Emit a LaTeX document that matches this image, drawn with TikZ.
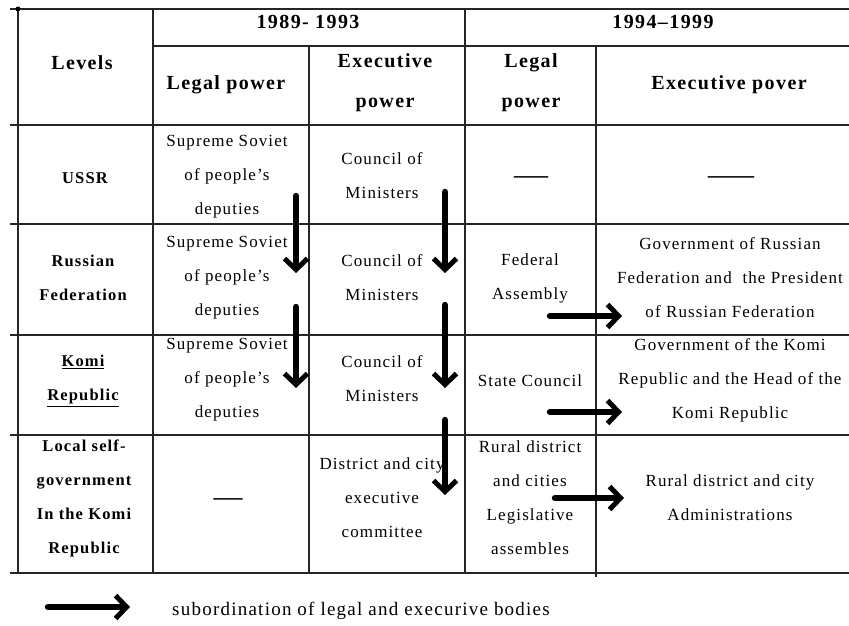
\documentclass[tikz,border=0pt]{standalone}
\usepackage{fontspec}
\setmainfont{Liberation Serif}
\newfontfamily\bodyfont[LetterSpace=6.5]{Liberation Serif}
\newfontfamily\headfont[LetterSpace=7,BoldFont={Liberation Serif Bold}]{Liberation Serif}
\newfontfamily\legfont[LetterSpace=6.5]{Liberation Serif}
\usetikzlibrary{arrows.meta}
\begin{document}
\begin{tikzpicture}[x=1pt,y=-1pt,
  grid/.style={line width=1.5pt, draw=black!85},
  hd/.style={align=center, font=\headfont\bfseries\fontsize{20}{40}\selectfont, inner sep=0pt},
  lv/.style={align=center, font=\headfont\bfseries\fontsize{16.5}{34}\selectfont, inner sep=0pt},
  bd/.style={align=center, font=\bodyfont\fontsize{17}{34}\selectfont, inner sep=0pt},
  dsh/.style={font=\bodyfont\fontsize{17}{34}\selectfont, inner sep=0pt},
  subarrow/.style={line width=6.5pt, line cap=round, -{Straight Barb[length=11pt,width=23pt,line width=5pt]}}]
\useasboundingbox (0,0) rectangle (849,626);
% grid lines
\draw[grid] (10,9) -- (849,9);
\draw[grid] (153,46) -- (849,46);
\draw[grid] (10,125) -- (849,125);
\draw[grid] (10,224) -- (849,224);
\draw[grid] (10,335) -- (849,335);
\draw[grid] (10,435) -- (849,435);
\draw[grid] (10,573) -- (849,573);
\draw[grid] (18,9) -- (18,573);
\draw[grid] (153,9) -- (153,573);
\draw[grid] (309,46) -- (309,573);
\draw[grid] (465,9) -- (465,573);
\draw[grid] (596,46) -- (596,577);
\fill (18,9) circle (2.5pt);
% header
\node[hd] (levels) at (82,63) {Levels};
\node[hd] (p1) at (308,22) {1989- 1993};
\node[hd] (p2) at (663,22) {1994–1999};
\node[hd] (lp1) at (226,85) {Legal power};
\node[hd] (ep1) at (385,83) {Executive\\power};
\node[hd] (lp2) at (531,83) {Legal\\power};
\node[hd] (ep2) at (729,85) {Executive pover};
% USSR row
\node[lv] (ussr) at (85,178) {USSR};
\node[bd] (ussrl) at (227,177) {Supreme Soviet\\of people’s\\deputies};
\node[bd] (ussre) at (382,176) {Council of\\Ministers};
\node[dsh] (ussrl2) at (531,181) {\scalebox{2}[1.8]{—}};
\node[dsh] (ussre2) at (731,181) {\scalebox{2.7}[1.8]{—}};
% Russian Federation row
\node[lv] (rf) at (83,278) {Russian\\Federation};
\node[bd] (rfl) at (227,278) {Supreme Soviet\\of people’s\\deputies};
\node[bd] (rfe) at (382,278) {Council of\\Ministers};
\node[bd] (rfl2) at (530,278) {Federal\\Assembly};
\node[bd] (rfe2) at (730,278) {Government of Russian\\Federation and~ the President\\of Russian Federation};
% Komi row
\node[lv] (komi) at (83,381) {\underline{Komi}\\\underline{Republic}};
\node[bd] (komil) at (227,380) {Supreme Soviet\\of people’s\\deputies};
\node[bd] (komie) at (382,379) {Council of\\Ministers};
\node[bd] (komil2) at (530,381) {State Council};
\node[bd] (komie2) at (730,380) {Government of the Komi\\Republic and the Head of the\\Komi Republic};
% Local row
\node[lv] (loc) at (84,498) {Local self-\\government\\In the Komi\\Republic};
\node[dsh] (locl) at (228,503) {\scalebox{1.7}[1.8]{—}};
\node[bd] (loce) at (382,498) {District and city\\executive\\committee};
\node[bd] (locl2) at (530,498) {Rural district\\and cities\\Legislative\\assembles};
\node[bd] (loce2) at (730,498) {Rural district and city\\Administrations};
% arrows
\coordinate (a1s) at (296,196); \coordinate (a1e) at (296,273);
\coordinate (a2s) at (296,307); \coordinate (a2e) at (296,388);
\coordinate (b1s) at (445,192); \coordinate (b1e) at (445,273);
\coordinate (b2s) at (445,305); \coordinate (b2e) at (445,388);
\coordinate (b3s) at (445,420); \coordinate (b3e) at (445,495);
\coordinate (h1s) at (550,316); \coordinate (h1e) at (622,316);
\coordinate (h2s) at (550,412); \coordinate (h2e) at (622,412);
\coordinate (h3s) at (555,498); \coordinate (h3e) at (624,498);
\draw[subarrow] (a1s) -- (a1e);
\draw[subarrow] (a2s) -- (a2e);
\draw[subarrow] (b1s) -- (b1e);
\draw[subarrow] (b2s) -- (b2e);
\draw[subarrow] (b3s) -- (b3e);
\draw[subarrow] (h1s) -- (h1e);
\draw[subarrow] (h2s) -- (h2e);
\draw[subarrow] (h3s) -- (h3e);
% legend
\coordinate (ls) at (48,607); \coordinate (le) at (130,607);
\draw[subarrow] (ls) -- (le);
\node[anchor=west, inner sep=0pt, font=\legfont\fontsize{19}{24}\selectfont] (legend) at (172,611) {subordination of legal and execurive bodies};
\end{tikzpicture}
\end{document}
